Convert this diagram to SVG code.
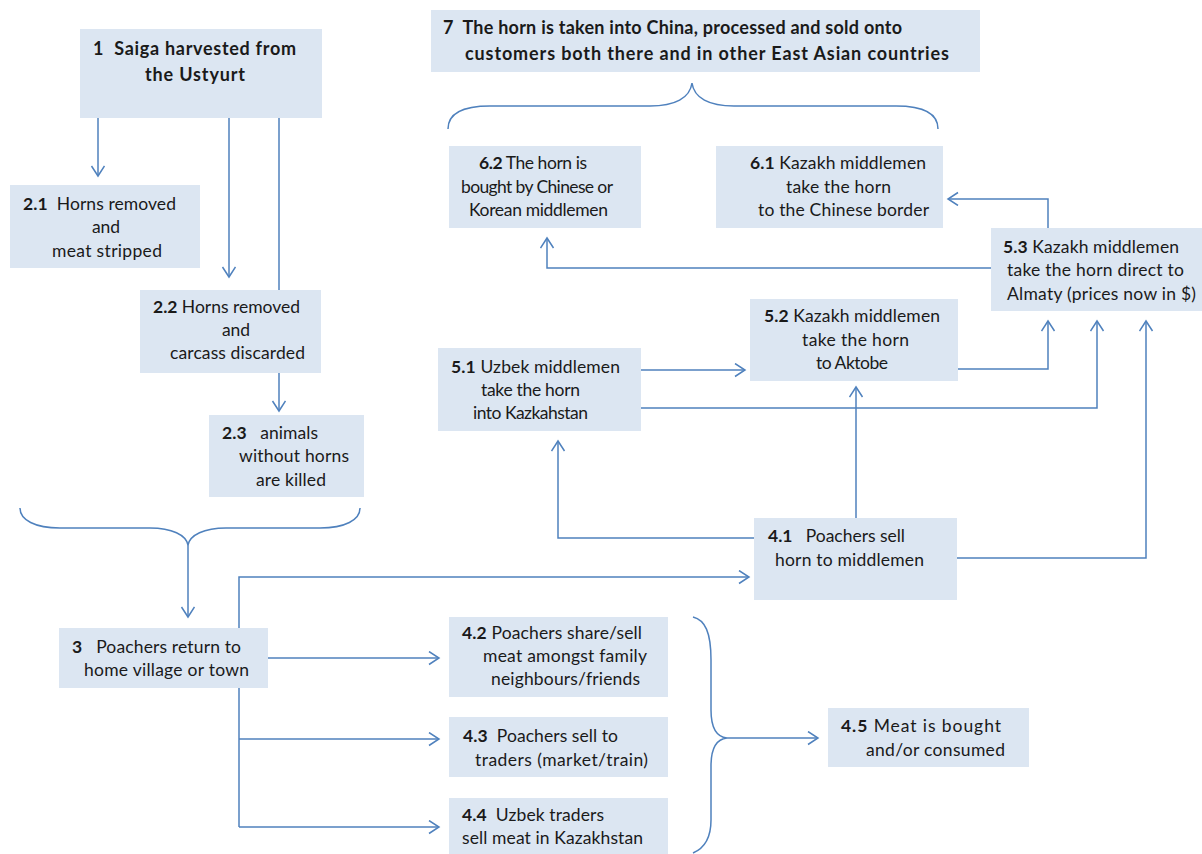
<svg xmlns="http://www.w3.org/2000/svg" width="1202" height="854" viewBox="0 0 1202 854">
<style>
.box{fill:#DCE6F2;}
text{font-family:Lato,"Open Sans","Liberation Sans",sans-serif;font-size:17.5px;fill:#1a1a1a;white-space:pre;}
.b{font-weight:bold;}
.t{font-weight:bold;font-size:18px;}
.c{fill:none;stroke:#4F81BD;stroke-width:1.5;}
.a{marker-end:url(#ah);}
</style>
<defs>
<marker id="ah" markerUnits="userSpaceOnUse" markerWidth="14" markerHeight="16" refX="11" refY="7" orient="auto">
<path d="M1,0.5 L11,7 L1,13.5" fill="none" stroke="#4F81BD" stroke-width="1.5"/>
</marker>
</defs>
<rect width="1202" height="854" fill="#fff"/>

<g id="connectors">
<path class="c a" d="M98,118 V176"/>
<path class="c a" d="M229,118 V277"/>
<path class="c" d="M279,118 V290"/>
<path class="c a" d="M279,373 V411"/>
<path class="c" d="M20,508 C20,520 35,528 60,528 L150,528 C172,528 186,535 188,545 C190,535 204,528 226,528 L320,528 C345,528 360,520 360,508"/>
<path class="c a" d="M188,545 V617"/>
<path class="c a" d="M239,628 V577 H749"/>
<path class="c a" d="M268,658 H439"/>
<path class="c" d="M239,688 V827"/>
<path class="c a" d="M239,739 H439"/>
<path class="c a" d="M239,827 H439"/>
<path class="c" d="M693,617 C705,620 711,632 711,660 L711,710 C711,728 717,737 727,738 C717,739 711,748 711,766 L711,820 C711,838 705,848 693,853"/>
<path class="c a" d="M727,738 H818"/>
<path class="c a" d="M754,538 H558 V441"/>
<path class="c a" d="M856,518 V387"/>
<path class="c a" d="M957,558 H1146 V321"/>
<path class="c a" d="M641,370 H745"/>
<path class="c a" d="M641,408 H1097 V321"/>
<path class="c a" d="M958,369 H1048 V321"/>
<path class="c a" d="M1048,228 V199 H948"/>
<path class="c a" d="M991,268 H547 V238"/>
<path class="c" d="M448,129 C448,112 465,106 490,106 L650,106 C675,106 690,98 692,83 C694,98 709,106 734,106 L896,106 C921,106 938,112 938,129"/>
</g>

<g id="n1"><rect class="box" x="80" y="29" width="242" height="89"/>
<text class="t" x="93" y="55" textLength="203">1  Saiga harvested from</text>
<text class="t" x="145" y="81" textLength="100">the Ustyurt</text></g>

<g id="n7"><rect class="box" x="431" y="10" width="549" height="62"/>
<text class="t" x="443" y="34" textLength="459">7  The horn is taken into China, processed and sold onto</text>
<text class="t" x="465" y="60" textLength="484">customers both there and in other East Asian countries</text></g>

<g id="n62"><rect class="box" x="449" y="146" width="192" height="82"/>
<text x="479" y="169" textLength="108"><tspan class="b">6.2</tspan> The horn is</text>
<text x="461" y="193" textLength="152">bought by Chinese or</text>
<text x="469" y="216" textLength="139">Korean middlemen</text></g>

<g id="n61"><rect class="box" x="716" y="146" width="227" height="82"/>
<text x="750" y="169" textLength="176"><tspan class="b">6.1</tspan> Kazakh middlemen</text>
<text x="786" y="193" textLength="105">take the horn</text>
<text x="758" y="216" textLength="171">to the Chinese border</text></g>

<g id="n53"><rect class="box" x="991" y="228" width="211" height="83"/>
<text x="1003" y="253" textLength="176"><tspan class="b">5.3</tspan> Kazakh middlemen</text>
<text x="1007" y="276" textLength="177">take the horn direct to</text>
<text x="1007" y="300" textLength="189">Almaty (prices now in $)</text></g>

<g id="n52"><rect class="box" x="750" y="299" width="208" height="82"/>
<text x="764" y="322" textLength="176"><tspan class="b">5.2</tspan> Kazakh middlemen</text>
<text x="802" y="346" textLength="107">take the horn</text>
<text x="816" y="369" textLength="72">to Aktobe</text></g>

<g id="n51"><rect class="box" x="438" y="348" width="203" height="83"/>
<text x="451" y="373" textLength="169"><tspan class="b">5.1</tspan> Uzbek middlemen</text>
<text x="481" y="396" textLength="99">take the horn</text>
<text x="473" y="419" textLength="115">into Kazkahstan</text></g>

<g id="n41"><rect class="box" x="754" y="518" width="203" height="82"/>
<text x="768" y="542" textLength="137"><tspan class="b">4.1</tspan>   Poachers sell</text>
<text x="775" y="566" textLength="149">horn to middlemen</text></g>

<g id="n21"><rect class="box" x="10" y="185" width="190" height="83"/>
<text x="23" y="210" textLength="153"><tspan class="b">2.1</tspan>  Horns removed</text>
<text x="92" y="233" textLength="28">and</text>
<text x="52" y="257" textLength="110">meat stripped</text></g>

<g id="n22"><rect class="box" x="140" y="290" width="181" height="83"/>
<text x="153" y="313" textLength="147"><tspan class="b">2.2</tspan> Horns removed</text>
<text x="222" y="336" textLength="28">and</text>
<text x="170" y="359" textLength="135">carcass discarded</text></g>

<g id="n23"><rect class="box" x="209" y="415" width="155" height="82"/>
<text x="222" y="439" textLength="96"><tspan class="b">2.3</tspan>   animals</text>
<text x="239" y="462" textLength="110">without horns</text>
<text x="256" y="486" textLength="70">are killed</text></g>

<g id="n3"><rect class="box" x="59" y="628" width="209" height="60"/>
<text x="72" y="653" textLength="169"><tspan class="b">3</tspan>   Poachers return to</text>
<text x="84" y="676" textLength="165">home village or town</text></g>

<g id="n42"><rect class="box" x="449" y="617" width="219" height="80"/>
<text x="462" y="639" textLength="180"><tspan class="b">4.2</tspan> Poachers share/sell</text>
<text x="483" y="662" textLength="164">meat amongst family</text>
<text x="491" y="685" textLength="149">neighbours/friends</text></g>

<g id="n43"><rect class="box" x="449" y="717" width="219" height="60"/>
<text x="463" y="742" textLength="155"><tspan class="b">4.3</tspan>  Poachers sell to</text>
<text x="475" y="766" textLength="173">traders (market/train)</text></g>

<g id="n44"><rect class="box" x="449" y="798" width="219" height="56"/>
<text x="462" y="821" textLength="142"><tspan class="b">4.4</tspan>  Uzbek traders</text>
<text x="462" y="844" textLength="181">sell meat in Kazakhstan</text></g>

<g id="n45"><rect class="box" x="828" y="708" width="201" height="59"/>
<text x="841" y="732" textLength="160"><tspan class="b">4.5</tspan> Meat is bought</text>
<text x="866" y="756" textLength="139">and/or consumed</text></g>
</svg>
